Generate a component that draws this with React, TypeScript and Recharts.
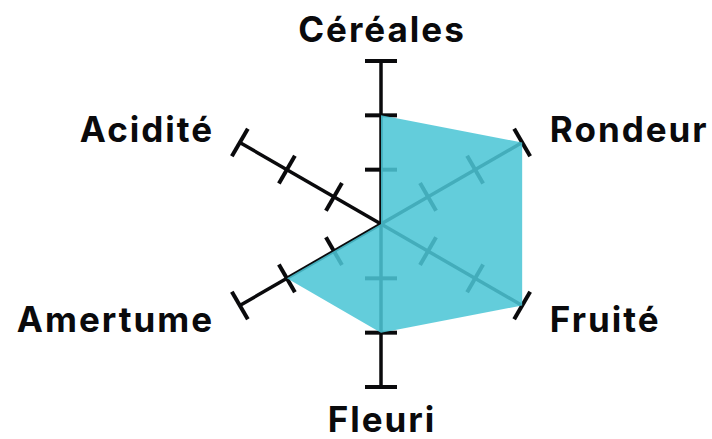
import { RadarChart, Radar, PolarAngleAxis, PolarRadiusAxis } from 'recharts';

// tasting profile, clockwise from the top
const aromas = ['Céréales', 'Rondeur', 'Fruité', 'Fleuri', 'Amertume', 'Acidité'];
const scores = [2, 3, 3, 2, 2, 0];
const scaleMax = 3;

const data = aromas.map((name, i) => ({ name, score: scores[i] }));

// one spoke per aroma, same angles the radar uses (start at 90, go clockwise)
const spokeAngles = aromas.map((_, i) => 90 - (360 / aromas.length) * i);

const FONT = 'Inter, "DejaVu Sans", sans-serif';
const SPACING = 2;

function SpokeTick(props: any) {
  const { x, y, payload, angle } = props;
  if (!payload || payload.value === 0) return <g />;
  const rad = (angle * Math.PI) / 180;
  const half = 16;
  // perpendicular to the spoke
  const px = Math.sin(rad) * half;
  const py = Math.cos(rad) * half;
  return (
    <line
      x1={x - px}
      y1={y - py}
      x2={x + px}
      y2={y + py}
      stroke="#0a0a0c"
      strokeWidth={4}
    />
  );
}

function AromaLabel(props: any) {
  const { x, y, payload, textAnchor } = props;
  const s = Math.sin((payload.coordinate * Math.PI) / 180);
  // side labels sit a bit closer to the horizontal
  const dy = textAnchor === 'middle' ? 0 : s * 5;
  // letter-spacing adds a trailing gap, compensate for it
  const dx = textAnchor === 'end' ? SPACING : textAnchor === 'middle' ? SPACING / 2 : 0;
  return (
    <text
      x={x + dx}
      y={y + dy}
      textAnchor={textAnchor}
      dominantBaseline="central"
      fontFamily={FONT}
      fontWeight={700}
      fontSize={35}
      letterSpacing={SPACING}
      fill="#0a0a0c"
    >
      {payload.value}
    </text>
  );
}

export default function App() {
  return (
    <div style={{ position: 'absolute', left: 0, top: 0, background: '#fff' }}>
      <RadarChart
        width={712}
        height={439}
        data={data}
        cx={381}
        cy={224}
        outerRadius={163}
        margin={{ top: 0, right: 0, bottom: 0, left: 0 }}
      >
        {spokeAngles.map((a) => (
          <PolarRadiusAxis
            key={a}
            angle={a}
            type="number"
            domain={[0, scaleMax]}
            tickCount={scaleMax + 1}
            zIndex={-50}
            axisLine={{ stroke: '#0a0a0c', strokeWidth: 3.5 }}
            tick={(p: any) => <SpokeTick {...p} angle={a} />}
          />
        ))}
        <PolarAngleAxis
          dataKey="name"
          axisLine={false}
          tickLine={false}
          tickSize={32}
          tick={(p: any) => <AromaLabel {...p} />}
        />
        <Radar
          dataKey="score"
          fill="#4cc5d6"
          fillOpacity={0.87}
          stroke="none"
          dot={false}
          zIndex={100}
          isAnimationActive={false}
        />
      </RadarChart>
    </div>
  );
}
